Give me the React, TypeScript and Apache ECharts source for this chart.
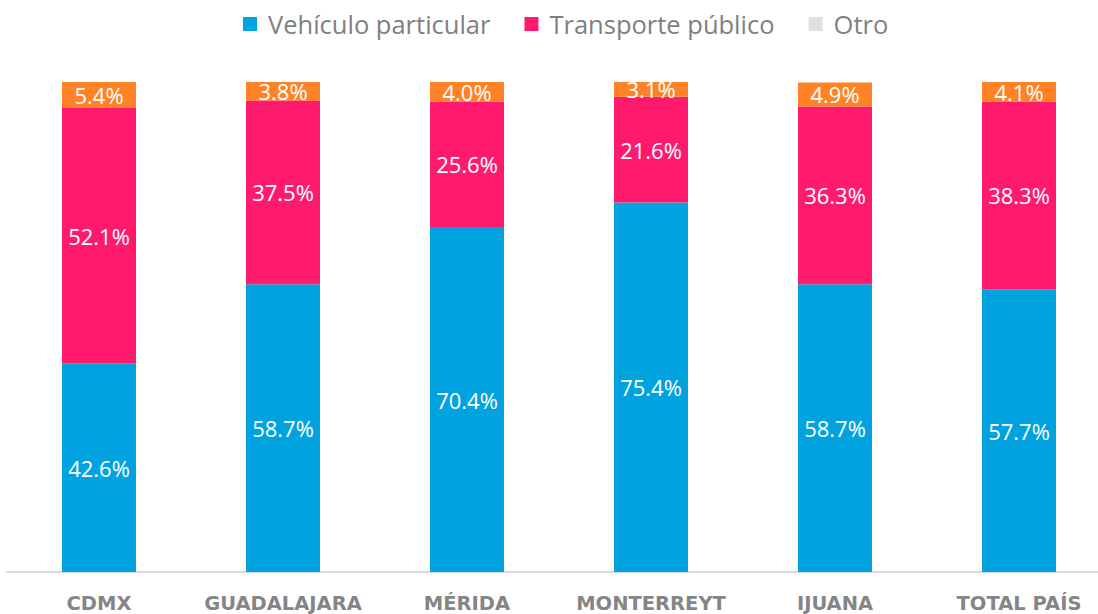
import React, { useEffect, useRef } from "react";
import * as echarts from "echarts";

const categories = ["CDMX", "GUADALAJARA", "MÉRIDA", "MONTERREYT", "IJUANA", "TOTAL PAÍS"];
const vehiculo = [42.6, 58.7, 70.4, 75.4, 58.7, 57.7];
const transporte = [52.1, 37.5, 25.6, 21.6, 36.3, 38.3];
const otro = [5.4, 3.8, 4.0, 3.1, 4.9, 4.1];

const FONT = "'Open Sans', 'Noto Sans', sans-serif";

export default function App() {
  const ref = useRef<HTMLDivElement>(null);
  useEffect(() => {
    if (!ref.current) return;
    const chart = echarts.init(ref.current, null, { renderer: "svg" });
    const label = {
      show: true,
      position: "inside",
      color: "#ffffff",
      fontSize: 22,
      fontFamily: FONT,
      formatter: (p: any) => p.value.toFixed(1) + "%",
    };
    chart.setOption({
      animation: false,
      legend: {
        top: 6,
        left: 238,
        itemWidth: 14,
        itemHeight: 14,
        itemGap: 34,
        icon: "rect",
        textStyle: { color: "#7f7f7f", fontSize: 25.5, fontFamily: FONT, padding: [0, 0, 0, 6] },
        data: [
          { name: "Vehículo particular" },
          { name: "Transporte público" },
          { name: "Otro", itemStyle: { color: "#e0e0e0" } },
        ],
      },
      grid: { left: 7, width: 1104, top: 82, bottom: 42, containLabel: false, outerBoundsMode: "none" },
      xAxis: {
        type: "category",
        data: categories,
        axisLine: { lineStyle: { color: "#d9d9d9", width: 2 } },
        axisTick: { show: false },
        axisLabel: {
          color: "#858585",
          fontSize: 19.5,
          fontWeight: 600,
          fontFamily: "'DejaVu Sans', sans-serif",
          margin: 21,
          interval: 0,
          lineHeight: 20,
        },
      },
      yAxis: { type: "value", min: 0, max: 100, show: false, splitLine: { show: false } },
      series: [
        {
          name: "Vehículo particular",
          type: "bar",
          stack: "t",
          barWidth: 74,
          data: vehiculo,
          itemStyle: { color: "#00a3e0" },
          label,
        },
        {
          name: "Transporte público",
          type: "bar",
          stack: "t",
          barWidth: 74,
          data: transporte,
          itemStyle: { color: "#ff1a6e" },
          label,
        },
        {
          name: "Otro",
          type: "bar",
          stack: "t",
          barWidth: 74,
          data: otro,
          itemStyle: { color: "#ff8326" },
          label,
        },
      ],
    });
    return () => chart.dispose();
  }, []);
  return <div ref={ref} style={{ width: 1098, height: 614, position: "absolute", left: 0, top: 0 }} />;
}
